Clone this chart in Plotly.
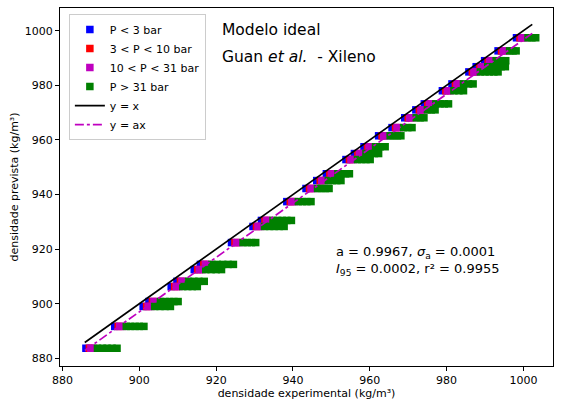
import plotly.graph_objects as go

# predicted density for each temperature group (kg/m3)
pred = [883.7, 891.7, 899.0, 900.8, 906.3, 908.2, 912.5, 914.4, 922.4, 928.3,
        930.5, 937.4, 942.2, 945.1, 947.6, 952.8, 955.0, 957.5, 961.5, 964.5,
        968.1, 971.0, 973.2, 978.0, 980.5, 984.9, 986.8, 989.0, 992.6, 997.4]

# experimental density, P < 3 bar
exp_p3 = [886.1, 893.6, 901.0, 902.5, 908.3, 909.8, 914.3, 915.9, 924.0, 929.6,
          931.8, 938.4, 943.4, 946.2, 948.7, 953.8, 956.0, 958.5, 962.3, 965.8,
          969.1, 972.0, 974.2, 978.9, 981.4, 985.8, 987.7, 989.9, 993.4, 998.2]

# experimental density, 3 < P < 10 bar
exp_p10 = [887.0, 894.5, 901.9, 903.4, 909.2, 910.7, 915.2, 916.8, 924.9, 930.5,
           932.7, 939.3, 944.3, 947.1, 949.6, 954.7, 956.9, 959.4, 963.2, 966.7,
           970.0, 972.9, 975.1, 979.8, 982.3, 986.7, 988.6, 990.8, 994.3, 999.1]

# experimental density, 10 < P < 31 bar
exp_p31 = [[887.4, 888.1], [894.9, 895.6], [902.3, 903.0], [903.8, 904.5], [909.6, 910.3],
           [911.1, 911.8], [915.6, 916.3], [917.2, 917.9], [925.3, 926.0], [930.9, 931.6],
           [933.1, 933.8], [939.7, 940.4], [944.7, 945.4], [947.5, 948.2], [950.0, 950.7],
           [955.1, 955.8], [957.3, 958.0], [959.8, 960.5], [963.6, 964.3], [967.1, 967.8],
           [970.4, 971.1], [973.3, 974.0], [975.5, 976.2], [980.2, 980.9], [982.7, 983.4],
           [987.1, 987.8], [989.0, 989.7], [991.2, 991.9], [994.7, 995.4], [999.5, 1000.2]]

# experimental density, P > 31 bar
exp_phigh = [[889.1, 890.4, 891.6, 892.9, 894.2],
             [896.6, 897.7, 898.9, 900.0, 901.2],
             [904.0, 905.4, 906.7, 908.1],
             [905.5, 906.7, 907.9, 909.0, 910.1],
             [911.3, 912.6, 913.8, 915.1],
             [912.8, 914.2, 915.5, 916.9],
             [917.3, 918.7, 920.0, 921.4],
             [918.9, 920.3, 921.7, 923.1, 924.5],
             [927.0, 928.1, 929.2, 930.3],
             [932.6, 933.9, 935.1, 936.4, 937.7],
             [934.8, 936.0, 937.2, 938.4, 939.6],
             [941.4, 942.5, 943.6, 944.7],
             [946.4, 947.4, 948.4, 949.4],
             [949.2, 950.3, 951.4, 952.5],
             [951.7, 952.7, 953.7, 954.7],
             [956.8, 957.9, 959.0, 960.1],
             [959.0, 960.1, 961.2, 962.3],
             [961.5, 962.7, 964.0],
             [965.3, 966.2, 967.2, 968.1],
             [968.8, 969.9, 971.0],
             [972.1, 973.1, 974.1],
             [975.0, 976.0, 977.0],
             [977.2, 978.3, 979.4, 980.5],
             [981.9, 983.2, 984.4],
             [984.4, 985.7, 986.9],
             [988.8, 990.0, 991.1, 992.3, 993.4],
             [990.7, 991.9, 993.0, 994.2, 995.3],
             [992.9, 994.2, 995.4],
             [996.4, 997.3, 998.1],
             [1001.2, 1002.2, 1003.2]]

line_x = [885.8, 1002.3]
a_fit = 0.9967
ticks = [880, 900, 920, 940, 960, 980, 1000]

def flatten(groups):
    xs, ys = [], []
    for yv, g in zip(pred, groups):
        for xv in g:
            xs.append(xv)
            ys.append(yv)
    return xs, ys

mag_x, mag_y = flatten(exp_p31)
grn_x, grn_y = flatten(exp_phigh)

FONT = "DejaVu Sans"
msize = 7.5
fig = go.Figure()
fig.add_trace(go.Scatter(x=exp_p3, y=pred, mode="markers", name="P < 3 bar",
                         marker=dict(symbol="square", size=msize, color="#0000ff")))
fig.add_trace(go.Scatter(x=exp_p10, y=pred, mode="markers", name="3 < P < 10 bar",
                         marker=dict(symbol="square", size=msize, color="#ff0000")))
fig.add_trace(go.Scatter(x=mag_x, y=mag_y, mode="markers", name="10 < P < 31 bar",
                         marker=dict(symbol="square", size=msize, color="#bf00bf")))
fig.add_trace(go.Scatter(x=grn_x, y=grn_y, mode="markers", name="P > 31 bar",
                         marker=dict(symbol="square", size=msize, color="#008000")))
fig.add_trace(go.Scatter(x=line_x, y=line_x, mode="lines", name="y = x",
                         line=dict(color="black", width=1.7)))
fig.add_trace(go.Scatter(x=line_x, y=[a_fit * v for v in line_x], mode="lines", name="y = ax",
                         line=dict(color="#bf00bf", width=1.7, dash="dashdot")))

axis_common = dict(showline=True, linecolor="black", linewidth=1, mirror=True,
                   ticks="outside", ticklen=4, tickcolor="black", tickwidth=1,
                   showgrid=False, zeroline=False, tickvals=ticks,
                   tickfont=dict(family=FONT, size=11, color="black"))

fig.update_layout(
    width=561, height=405,
    margin=dict(l=60, r=7, t=8, b=37),
    paper_bgcolor="white", plot_bgcolor="white",
    font=dict(family=FONT, size=11, color="black"),
    xaxis=dict(range=[879.35, 1007.7],
               title=dict(text="densidade experimental (kg/m³)", standoff=3,
                          font=dict(family=FONT, size=11)),
               **axis_common),
    yaxis=dict(range=[877.2, 1008.3],
               title=dict(text="densidade prevista (kg/m³)", standoff=3,
                          font=dict(family=FONT, size=11)),
               **axis_common),
    legend=dict(x=0.018, y=0.983, xanchor="left", yanchor="top",
                bgcolor="white", bordercolor="#cccccc", borderwidth=1,
                font=dict(family=FONT, size=11, color="black"),
                tracegroupgap=0),
    showlegend=True,
)

fig.add_annotation(x=0.324, y=0.938, xref="paper", yref="paper", xanchor="left", yanchor="middle",
                   text="Modelo ideal", showarrow=False, font=dict(family=FONT, size=15.5))
fig.add_annotation(x=0.324, y=0.862, xref="paper", yref="paper", xanchor="left", yanchor="middle",
                   text="Guan <i>et al.</i>  - Xileno", showarrow=False, font=dict(family=FONT, size=15.5))
fig.add_annotation(x=0.556, y=0.316, xref="paper", yref="paper", xanchor="left", yanchor="middle",
                   text="a = 0.9967, <i>σ</i><sub>a</sub> = 0.0001", showarrow=False,
                   font=dict(family=FONT, size=13))
fig.add_annotation(x=0.556, y=0.270, xref="paper", yref="paper", xanchor="left", yanchor="middle",
                   text="<i>I</i><sub>95</sub> = 0.0002, r² = 0.9955", showarrow=False,
                   font=dict(family=FONT, size=13))

fig.write_html("out.html")
